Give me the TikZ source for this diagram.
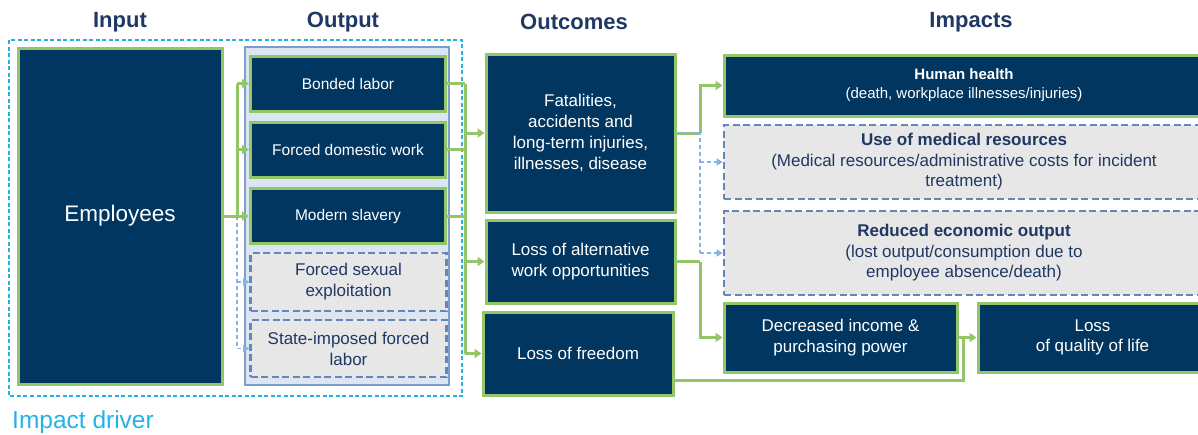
\documentclass[tikz,border=0pt]{standalone}
\usepackage{fontspec}
\setmainfont{Liberation Sans}
\usetikzlibrary{arrows.meta}
\definecolor{navy}{RGB}{0,54,96}
\definecolor{hdr}{RGB}{31,56,100}
\definecolor{grn}{RGB}{146,198,104}
\definecolor{dashb}{RGB}{100,134,184}
\definecolor{lgrey}{RGB}{231,231,231}
\definecolor{contf}{RGB}{220,230,242}
\definecolor{contb}{RGB}{127,157,200}
\definecolor{cyanb}{RGB}{35,178,230}
\definecolor{lblue}{RGB}{135,178,228}
\tikzset{
  navybox/.style={draw=grn, line width=3pt, fill=navy, text=white, align=center, inner sep=0pt},
  dashbox/.style={draw=dashb, line width=2.6pt, dash pattern=on 7pt off 3.5pt, fill=lgrey, text=hdr, align=center, inner sep=0pt},
  hdrtext/.style={text=hdr, font=\fontsize{22}{26}\selectfont\bfseries},
  gline/.style={draw=grn, line width=3pt},
  garrow/.style={draw=grn, line width=3pt, -{Triangle[length=7pt,width=9pt]}},
  darrow/.style={draw=lblue, line width=1.5pt, dash pattern=on 4pt off 3pt, -{Triangle[length=6pt,width=7pt]}},
  dline/.style={draw=lblue, line width=1.5pt, dash pattern=on 4pt off 3pt},
  fout/.style={font=\fontsize{15.5}{19}\selectfont},
  fouc/.style={font=\fontsize{17}{21}\selectfont},
  fimp/.style={font=\fontsize{17}{20.5}\selectfont},
}
\begin{document}
\begin{tikzpicture}[x=1pt,y=-1pt]
\useasboundingbox (0,0) rectangle (1198,434);
% headers
\node[hdrtext] (hin) at (120,22) {Input};
\node[hdrtext] (hout) at (343,22) {Output};
\node[hdrtext] (houc) at (574,22) {Outcomes};
\node[hdrtext] (himp) at (971,22) {Impacts};
% impact driver frame
\draw[draw=cyanb, line width=1.6pt, dash pattern=on 4pt off 2.5pt] (9,40) rectangle (462,396);
\node[text=cyanb, font=\fontsize{24.5}{28}\selectfont, anchor=base west, inner sep=0pt] (drv) at (12,428) {Impact driver};
% output container
\node[draw=contb, fill=contf, line width=2.2pt, minimum width=204pt, minimum height=338pt, inner sep=0pt] (cont) at (347,216) {};
% input
\node[navybox, minimum width=204pt, minimum height=336pt, font=\fontsize{22.5}{26}\selectfont] (emp) at (120,216) {Employees};
% outputs
\node[navybox, fout, minimum width=195pt, minimum height=55pt] (bond) at (348,83.5) {Bonded labor};
\node[navybox, fout, minimum width=195pt, minimum height=55pt] (fdw) at (348,149.5) {Forced domestic work};
\node[navybox, fout, minimum width=195pt, minimum height=55pt] (ms) at (348,216) {Modern slavery};
\node[dashbox, fouc, minimum width=196pt, minimum height=58pt] (fse) at (348.5,282) {Forced sexual\\exploitation};
\node[dashbox, fouc, minimum width=196pt, minimum height=57pt] (sif) at (348.5,348.5) {State-imposed forced\\labor};
% outcomes
\node[navybox, fouc, minimum width=189pt, minimum height=158pt] (fat) at (580.5,133) {Fatalities,\\accidents and\\long-term injuries,\\illnesses, disease};
\node[navybox, fouc, minimum width=189pt, minimum height=83pt] (loa) at (580.5,261.5) {Loss of alternative\\work opportunities};
\node[navybox, fouc, minimum width=190pt, minimum height=83pt] (lof) at (578,353.5) {Loss of freedom};
% impacts
\node[navybox, font=\fontsize{15}{19}\selectfont, minimum width=480pt, minimum height=61pt] (hh) at (964,85.5) {\raisebox{-3pt}{\begin{tabular}{@{}c@{}}\textbf{Human health}\\(death, workplace illnesses/injuries)\end{tabular}}};
\node[dashbox, fimp, minimum width=480pt, minimum height=74pt] (umr) at (964,162) {\textbf{Use of medical resources}\\(Medical resources/administrative costs for incident\\treatment)};
\node[dashbox, fimp, minimum width=480pt, minimum height=84pt] (reo) at (964,253) {\textbf{Reduced economic output}\\(lost output/consumption due to\\employee absence/death)};
\node[navybox, fimp, minimum width=233pt, minimum height=69pt] (dip) at (840.5,337.5) {Decreased income \&\\purchasing power};
\node[navybox, fimp, minimum width=229pt, minimum height=69pt] (lql) at (1092.5,337.5) {Loss\\of quality of life};
% junction coordinates
\coordinate (j1) at (237,216);
\coordinate (v) at (465,0);
\coordinate (w) at (700,0);
\coordinate (u) at (963,0);
% input -> outputs
\draw[dline] (j1) -- (j1 |- sif.west);
\draw[darrow] (j1 |- fse.west) -- (fse.west);
\draw[darrow] (j1 |- sif.west) -- (sif.west);
\draw[gline] (emp.east) -- (j1);
\draw[gline] (j1) -- (j1 |- bond.west);
\draw[garrow] (j1 |- bond.west) -- (bond.west);
\draw[garrow] (j1 |- fdw.west) -- (fdw.west);
\draw[garrow] (j1) -- (ms.west);
% outputs -> outcomes
\draw[gline] (bond.east) -- (bond.east -| v);
\draw[gline] (fdw.east) -- (fdw.east -| v);
\draw[gline] (ms.east) -- (ms.east -| v);
\draw[gline] (bond.east -| v) -- (lof.west -| v);
\draw[garrow] (fat.west -| v) -- (fat.west);
\draw[garrow] (loa.west -| v) -- (loa.west);
\draw[garrow] (lof.west -| v) -- (lof.west);
% outcomes -> impacts
\draw[gline] (fat.east) -- (fat.east -| w);
\draw[garrow] (fat.east -| w) |- (hh.west);
\draw[dline] (fat.east) -- (fat.east -| w) -- (reo.west -| w);
\draw[darrow] (umr.west -| w) -- (umr.west);
\draw[darrow] (reo.west -| w) -- (reo.west);
\draw[gline] (loa.east) -- (loa.east -| w);
\draw[garrow] (loa.east -| w) |- (dip.west);
\draw[garrow] (dip.east) -- (lql.west);
\coordinate (lofout) at ([yshift=-26.5pt]lof.east);
\draw[gline] (lofout) -| (dip.east -| u);
\end{tikzpicture}
\end{document}
